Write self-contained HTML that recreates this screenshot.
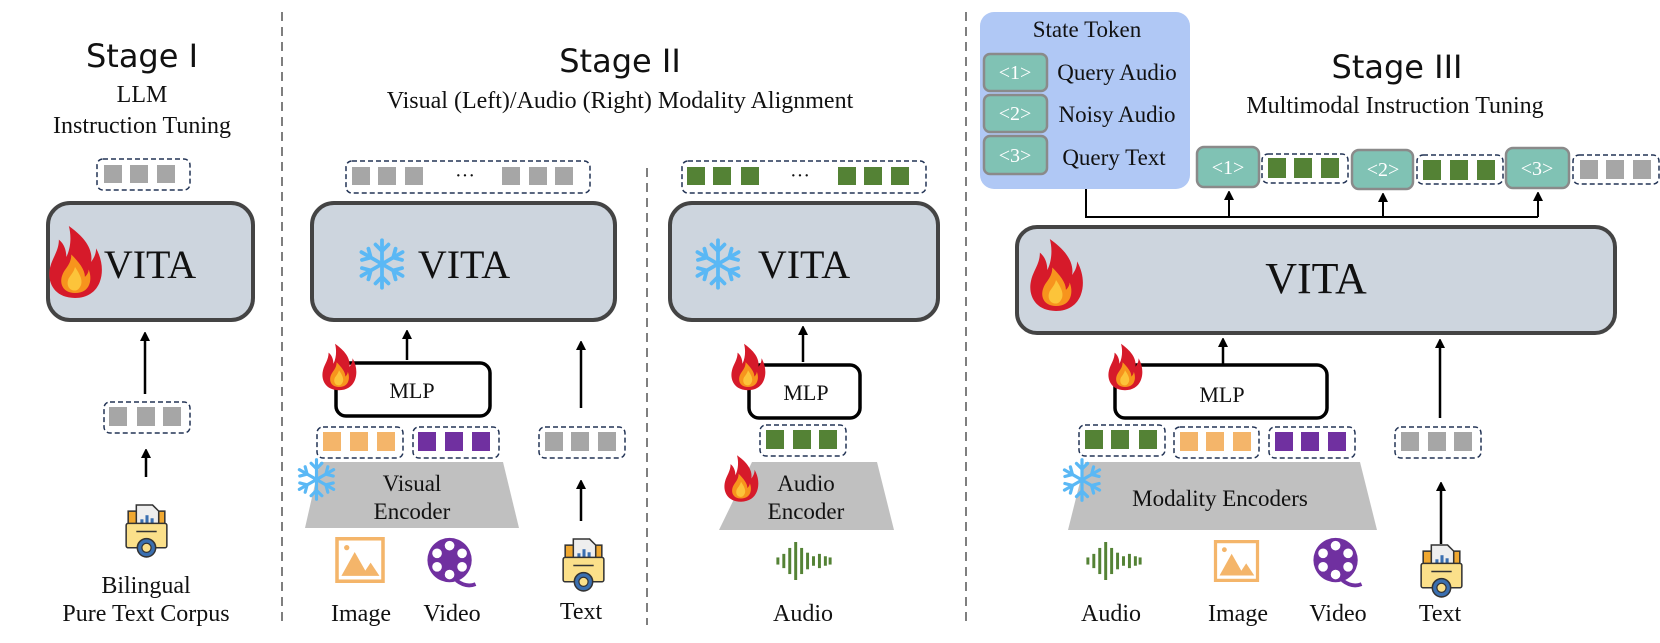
<!DOCTYPE html>
<html><head><meta charset="utf-8"><style>
html,body{margin:0;padding:0;background:#fff;}
svg{display:block;}
.serif{font-family:"Liberation Serif",serif;fill:#111;}
.stage{font-family:"DejaVu Sans",sans-serif;fill:#111;}
</style></head><body>
<svg width="1660" height="643" viewBox="0 0 1660 643" xmlns="http://www.w3.org/2000/svg">
<defs>
<marker id="ah" markerWidth="9" markerHeight="10" refX="1" refY="5" orient="auto" markerUnits="userSpaceOnUse">
<path d="M0,0 L10,5 L0,10 Z" fill="#000"/></marker>
<symbol id="fire" viewBox="0 0 50 60">
<path d="M25 59 C8 59 2 46 5 34 C7 26 12 21 12 12 C17 16 18 22 18 26 C22 18 22 8 20 1 C30 8 40 18 38 30 C40 27 42 24 42 19 C47 28 48 38 45 46 C42 54 35 59 25 59Z" fill="#d61a2a"/>
<path d="M25 55 C15 55 12 47 15 40 C17 35 22 32 22 24 C28 30 33 36 33 42 C35 40 36 38 36 36 C39 43 38 55 25 55Z" fill="#f7941d"/>
<path d="M25 53 C19 53 18 47 20 43 C22 40 24 38 25 34 C29 40 31 44 30 48 C29 51 27 53 25 53Z" fill="#fcc43a"/>
</symbol>
<symbol id="snow" viewBox="-25 -25 50 50">
<g stroke="#5ab8f5" stroke-width="3.5" stroke-linecap="round" fill="none">
<g id="arm"><line x1="0" y1="-22" x2="0" y2="22"/><polyline points="-6,-18 0,-12 6,-18"/><polyline points="-6,18 0,12 6,18"/></g>
<use href="#arm" transform="rotate(60)"/><use href="#arm" transform="rotate(120)"/>
</g></symbol>
<symbol id="doc" viewBox="0 0 44 56">
<rect x="4" y="8" width="36" height="28" fill="#f0a830" stroke="#333" stroke-width="1.5"/>
<path d="M12 2 H28 L34 8 V26 H12Z" fill="#eee" stroke="#333" stroke-width="1.5"/>
<rect x="16" y="16" width="3" height="8" fill="#3a6fb0"/><rect x="21" y="12" width="3" height="12" fill="#3a6fb0"/><rect x="26" y="15" width="3" height="9" fill="#3a6fb0"/>
<rect x="2" y="20" width="40" height="24" rx="2" fill="#fbe08a" stroke="#333" stroke-width="1.5"/>
<line x1="12" y1="28" x2="32" y2="28" stroke="#333" stroke-width="1.5"/>
<circle cx="22" cy="44" r="9" fill="#3a6fb0" stroke="#333" stroke-width="1.5"/><circle cx="22" cy="44" r="4.5" fill="#fbe08a" stroke="#333" stroke-width="1.2"/>
</symbol>
<symbol id="img" viewBox="0 0 56 52">
<rect x="2" y="2" width="52" height="48" fill="#fff" stroke="#f4b56a" stroke-width="4"/>
<path d="M7 44 L22 17 L34 38 L40 29 L50 44Z" fill="#f4b56a"/><circle cx="13" cy="12" r="3" fill="#f4b56a"/>
</symbol>
<symbol id="vid" viewBox="0 0 50 54">
<circle cx="23" cy="25" r="23" fill="#7030a0"/>
<circle cx="23" cy="10" r="5" fill="#fff"/><circle cx="23" cy="40" r="5" fill="#fff"/>
<circle cx="10" cy="18" r="5" fill="#fff"/><circle cx="36" cy="18" r="5" fill="#fff"/>
<circle cx="10" cy="32" r="5" fill="#fff"/><circle cx="36" cy="32" r="5" fill="#fff"/>
<path d="M30 46 Q40 54 50 50" stroke="#7030a0" stroke-width="4" fill="none"/>
</symbol>
<symbol id="wave" viewBox="0 0 48 32">
<g stroke="#548235" stroke-width="2.5" stroke-linecap="butt">
<line x1="2" y1="13" x2="2" y2="19"/><line x1="7" y1="10" x2="7" y2="22"/><line x1="12" y1="5" x2="12" y2="27"/><line x1="17" y1="0" x2="17" y2="32"/><line x1="22" y1="5" x2="22" y2="27"/><line x1="27" y1="9" x2="27" y2="23"/><line x1="32" y1="12" x2="32" y2="20"/><line x1="37" y1="10" x2="37" y2="22"/><line x1="42" y1="12" x2="42" y2="20"/><line x1="46" y1="13" x2="46" y2="19"/>
</g></symbol>
</defs>

<g stroke="#555" stroke-width="1.5" stroke-dasharray="9,6">
<line x1="282" y1="12" x2="282" y2="625"/>
<line x1="647" y1="168" x2="647" y2="625"/>
<line x1="966" y1="12" x2="966" y2="625"/>
</g>

<!-- Stage I -->
<text class="stage" x="142" y="67" font-size="32" text-anchor="middle">Stage I</text>
<text class="serif" x="142" y="102" font-size="24" text-anchor="middle">LLM</text>
<text class="serif" x="142" y="133" font-size="24" text-anchor="middle">Instruction Tuning</text>
<rect x="97" y="159" width="93" height="31" rx="6" fill="none" stroke="#223355" stroke-width="1.5" stroke-dasharray="5,3"/>
<g fill="#a6a6a6"><rect x="104" y="165" width="18" height="18"/><rect x="130" y="165" width="18" height="18"/><rect x="157" y="165" width="18" height="18"/></g>
<rect x="48" y="203" width="205" height="117" rx="22" fill="#cdd5de" stroke="#444" stroke-width="4"/>
<text class="serif" x="150" y="278" font-size="40" text-anchor="middle">VITA</text>
<use href="#fire" x="44" y="222" width="62" height="80"/>
<line x1="145" y1="394" x2="145" y2="340" stroke="#000" stroke-width="2.5" marker-end="url(#ah)"/>
<rect x="104" y="402" width="86" height="31" rx="6" fill="none" stroke="#223355" stroke-width="1.5" stroke-dasharray="5,3"/>
<g fill="#a6a6a6"><rect x="109" y="407" width="18" height="19"/><rect x="137" y="407" width="18" height="19"/><rect x="163" y="407" width="18" height="19"/></g>
<line x1="146" y1="477" x2="146" y2="457" stroke="#000" stroke-width="2.5" marker-end="url(#ah)"/>
<use href="#doc" x="123" y="503" width="47" height="57"/>
<text class="serif" x="146" y="593" font-size="24" text-anchor="middle">Bilingual</text>
<text class="serif" x="146" y="621" font-size="24" text-anchor="middle">Pure Text Corpus</text>

<!-- Stage II -->
<text class="stage" x="620" y="72" font-size="32" text-anchor="middle">Stage II</text>
<text class="serif" x="620" y="108" font-size="24" text-anchor="middle">Visual (Left)/Audio (Right) Modality Alignment</text>
<rect x="346" y="161" width="244" height="32" rx="6" fill="none" stroke="#223355" stroke-width="1.5" stroke-dasharray="5,3"/>
<g fill="#a6a6a6"><rect x="352" y="167" width="18" height="18"/><rect x="378" y="167" width="18" height="18"/><rect x="405" y="167" width="18" height="18"/>
<rect x="502" y="167" width="18" height="18"/><rect x="529" y="167" width="18" height="18"/><rect x="555" y="167" width="18" height="18"/></g>
<text class="serif" x="465" y="182" font-size="20" text-anchor="middle">···</text>
<rect x="312" y="203" width="303" height="117" rx="22" fill="#cdd5de" stroke="#444" stroke-width="4"/>
<use href="#snow" x="355" y="237" width="54" height="54"/>
<text class="serif" x="464" y="278" font-size="40" text-anchor="middle">VITA</text>
<line x1="407" y1="360" x2="407" y2="338" stroke="#000" stroke-width="2.5" marker-end="url(#ah)"/>
<rect x="336" y="363" width="154" height="53" rx="10" fill="#fff" stroke="#000" stroke-width="3.5"/>
<text class="serif" x="412" y="398" font-size="22" text-anchor="middle">MLP</text>
<use href="#fire" x="319" y="342" width="40" height="50"/>
<rect x="317" y="427" width="86" height="31" rx="6" fill="none" stroke="#223355" stroke-width="1.5" stroke-dasharray="5,3"/>
<g fill="#f4b56a"><rect x="323" y="432" width="18" height="19"/><rect x="350" y="432" width="18" height="19"/><rect x="377" y="432" width="18" height="19"/></g>
<rect x="413" y="427" width="86" height="31" rx="6" fill="none" stroke="#223355" stroke-width="1.5" stroke-dasharray="5,3"/>
<g fill="#7030a0"><rect x="418" y="432" width="18" height="19"/><rect x="445" y="432" width="18" height="19"/><rect x="472" y="432" width="18" height="19"/></g>
<path d="M320 462 H503 L519 528 H305Z" fill="#c0c0c0"/>
<text class="serif" x="412" y="491" font-size="23" text-anchor="middle">Visual</text>
<text class="serif" x="412" y="519" font-size="23" text-anchor="middle">Encoder</text>
<use href="#snow" x="294" y="457" width="45" height="45"/>
<use href="#img" x="331" y="537" width="58" height="46"/>
<use href="#vid" x="424" y="536" width="55" height="52"/>
<text class="serif" x="361" y="621" font-size="24" text-anchor="middle">Image</text>
<text class="serif" x="452" y="621" font-size="24" text-anchor="middle">Video</text>
<line x1="581" y1="408" x2="581" y2="349" stroke="#000" stroke-width="2.5" marker-end="url(#ah)"/>
<rect x="539" y="427" width="86" height="31" rx="6" fill="none" stroke="#223355" stroke-width="1.5" stroke-dasharray="5,3"/>
<g fill="#a6a6a6"><rect x="545" y="432" width="18" height="19"/><rect x="571" y="432" width="18" height="19"/><rect x="598" y="432" width="18" height="19"/></g>
<line x1="581" y1="521" x2="581" y2="488" stroke="#000" stroke-width="2.5" marker-end="url(#ah)"/>
<use href="#doc" x="560" y="537" width="47" height="57"/>
<text class="serif" x="581" y="619" font-size="24" text-anchor="middle">Text</text>

<rect x="682" y="161" width="244" height="32" rx="6" fill="none" stroke="#223355" stroke-width="1.5" stroke-dasharray="5,3"/>
<g fill="#548235"><rect x="687" y="167" width="18" height="18"/><rect x="713" y="167" width="18" height="18"/><rect x="741" y="167" width="18" height="18"/>
<rect x="838" y="167" width="18" height="18"/><rect x="864" y="167" width="18" height="18"/><rect x="891" y="167" width="18" height="18"/></g>
<text class="serif" x="800" y="182" font-size="20" text-anchor="middle">···</text>
<rect x="670" y="203" width="268" height="117" rx="22" fill="#cdd5de" stroke="#444" stroke-width="4"/>
<use href="#snow" x="691" y="237" width="54" height="54"/>
<text class="serif" x="804" y="278" font-size="40" text-anchor="middle">VITA</text>
<line x1="803" y1="362" x2="803" y2="334" stroke="#000" stroke-width="2.5" marker-end="url(#ah)"/>
<rect x="749" y="365" width="111" height="53" rx="10" fill="#fff" stroke="#000" stroke-width="3.5"/>
<text class="serif" x="806" y="400" font-size="22" text-anchor="middle">MLP</text>
<use href="#fire" x="728" y="342" width="40" height="50"/>
<rect x="760" y="425" width="86" height="31" rx="6" fill="none" stroke="#223355" stroke-width="1.5" stroke-dasharray="5,3"/>
<g fill="#548235"><rect x="766" y="430" width="18" height="19"/><rect x="793" y="430" width="18" height="19"/><rect x="819" y="430" width="18" height="19"/></g>
<path d="M752 462 H877 L894 530 H719Z" fill="#c0c0c0"/>
<text class="serif" x="806" y="491" font-size="23" text-anchor="middle">Audio</text>
<text class="serif" x="806" y="519" font-size="23" text-anchor="middle">Encoder</text>
<use href="#fire" x="721" y="453" width="40" height="51"/>
<use href="#wave" x="775" y="542" width="58" height="38"/>
<text class="serif" x="803" y="621" font-size="24" text-anchor="middle">Audio</text>

<!-- Stage III -->
<rect x="980" y="12" width="210" height="177" rx="14" fill="#b0c8f5"/>
<text class="serif" x="1087" y="37" font-size="23" text-anchor="middle">State Token</text>
<g fill="#80c2b4" stroke="#8a8a8a" stroke-width="2.5">
<rect x="984" y="54" width="63" height="37" rx="6"/><rect x="984" y="95" width="63" height="37" rx="6"/><rect x="984" y="136" width="63" height="38" rx="6"/>
</g>
<g class="serif" font-size="20" text-anchor="middle" style="fill:#fff">
<text x="1015" y="79">&lt;1&gt;</text><text x="1015" y="120">&lt;2&gt;</text><text x="1015" y="162">&lt;3&gt;</text></g>
<text class="serif" x="1117" y="80" font-size="23" text-anchor="middle">Query Audio</text>
<text class="serif" x="1117" y="122" font-size="23" text-anchor="middle">Noisy Audio</text>
<text class="serif" x="1114" y="165" font-size="23" text-anchor="middle">Query Text</text>
<text class="stage" x="1397" y="78" font-size="32" text-anchor="middle">Stage III</text>
<text class="serif" x="1395" y="113" font-size="24" text-anchor="middle">Multimodal Instruction Tuning</text>
<g fill="#80c2b4" stroke="#8a8a8a" stroke-width="2.5">
<rect x="1197" y="147" width="62" height="40" rx="7"/><rect x="1352" y="150" width="61" height="39" rx="7"/><rect x="1506" y="148" width="63" height="40" rx="7"/>
</g>
<g class="serif" font-size="20" text-anchor="middle" style="fill:#fff">
<text x="1228" y="174">&lt;1&gt;</text><text x="1383" y="176">&lt;2&gt;</text><text x="1537" y="175">&lt;3&gt;</text></g>
<g fill="none" stroke="#223355" stroke-width="1.5" stroke-dasharray="5,3">
<rect x="1262" y="154" width="86" height="29" rx="6"/><rect x="1417" y="155" width="86" height="29" rx="6"/><rect x="1573" y="155" width="86" height="29" rx="6"/></g>
<g fill="#548235"><rect x="1268" y="158" width="18" height="20"/><rect x="1294" y="158" width="18" height="20"/><rect x="1321" y="158" width="18" height="20"/>
<rect x="1423" y="160" width="18" height="20"/><rect x="1450" y="160" width="18" height="20"/><rect x="1477" y="160" width="18" height="20"/></g>
<g fill="#a6a6a6"><rect x="1580" y="160" width="18" height="19"/><rect x="1606" y="160" width="18" height="19"/><rect x="1633" y="160" width="18" height="19"/></g>
<polyline points="1086,189 1086,217 1538,217" fill="none" stroke="#000" stroke-width="2"/>
<g stroke="#000" stroke-width="2" marker-end="url(#ah)">
<line x1="1229" y1="217" x2="1229" y2="199"/><line x1="1383" y1="217" x2="1383" y2="201"/><line x1="1538" y1="217" x2="1538" y2="200"/></g>
<rect x="1017" y="227" width="598" height="106" rx="20" fill="#cdd5de" stroke="#444" stroke-width="4"/>
<use href="#fire" x="1025" y="236" width="62" height="78"/>
<text class="serif" x="1316" y="293" font-size="44" text-anchor="middle">VITA</text>
<line x1="1223" y1="364" x2="1223" y2="346" stroke="#000" stroke-width="2.5" marker-end="url(#ah)"/>
<rect x="1115" y="365" width="212" height="53" rx="10" fill="#fff" stroke="#000" stroke-width="3.5"/>
<text class="serif" x="1222" y="402" font-size="22" text-anchor="middle">MLP</text>
<use href="#fire" x="1105" y="342" width="40" height="50"/>
<g fill="none" stroke="#223355" stroke-width="1.5" stroke-dasharray="5,3">
<rect x="1079" y="425" width="86" height="31" rx="6"/><rect x="1174" y="427" width="85" height="31" rx="6"/><rect x="1269" y="427" width="86" height="31" rx="6"/><rect x="1395" y="427" width="86" height="31" rx="6"/></g>
<g fill="#548235"><rect x="1085" y="430" width="18" height="19"/><rect x="1111" y="430" width="18" height="19"/><rect x="1139" y="430" width="18" height="19"/></g>
<g fill="#f4b56a"><rect x="1180" y="432" width="18" height="19"/><rect x="1206" y="432" width="18" height="19"/><rect x="1233" y="432" width="18" height="19"/></g>
<g fill="#7030a0"><rect x="1275" y="432" width="18" height="19"/><rect x="1301" y="432" width="18" height="19"/><rect x="1328" y="432" width="18" height="19"/></g>
<g fill="#a6a6a6"><rect x="1401" y="432" width="18" height="19"/><rect x="1428" y="432" width="18" height="19"/><rect x="1454" y="432" width="18" height="19"/></g>
<path d="M1085 462 H1360 L1377 530 H1068Z" fill="#c0c0c0"/>
<text class="serif" x="1220" y="506" font-size="23" text-anchor="middle">Modality Encoders</text>
<use href="#snow" x="1059" y="457" width="46" height="46"/>
<line x1="1440" y1="418" x2="1440" y2="347" stroke="#000" stroke-width="2.5" marker-end="url(#ah)"/>
<line x1="1441" y1="544" x2="1441" y2="490" stroke="#000" stroke-width="2.5" marker-end="url(#ah)"/>
<use href="#wave" x="1085" y="542" width="58" height="38"/>
<use href="#img" x="1210" y="540" width="53" height="42"/>
<use href="#vid" x="1310" y="536" width="55" height="52"/>
<use href="#doc" x="1418" y="543" width="47" height="57"/>
<text class="serif" x="1111" y="621" font-size="24" text-anchor="middle">Audio</text>
<text class="serif" x="1238" y="621" font-size="24" text-anchor="middle">Image</text>
<text class="serif" x="1338" y="621" font-size="24" text-anchor="middle">Video</text>
<text class="serif" x="1440" y="621" font-size="24" text-anchor="middle">Text</text>
</svg>
</body></html>
